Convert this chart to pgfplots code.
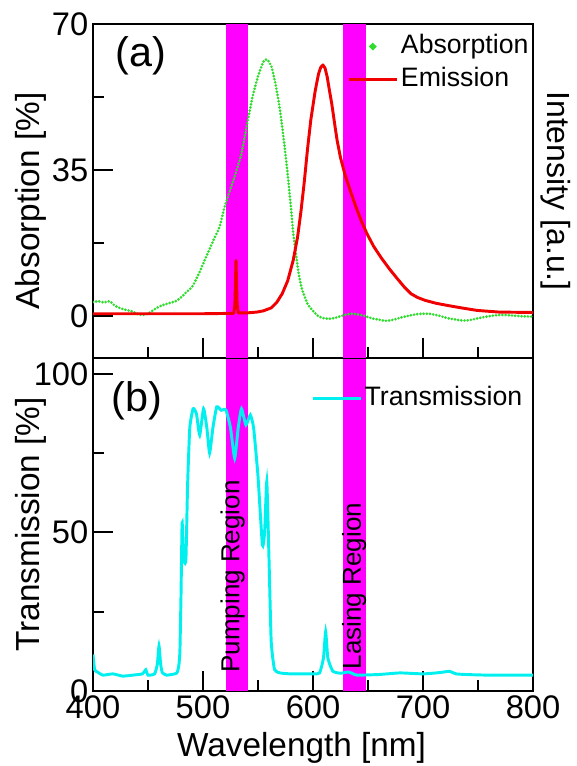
\documentclass[border=0pt]{standalone}
\usepackage{fontspec}
\setmainfont{Liberation Sans}
\usepackage{pgfplots}
\pgfplotsset{compat=1.18}

\definecolor{absgreen}{RGB}{45,220,45}
\definecolor{emred}{RGB}{240,0,0}
\definecolor{trcyan}{RGB}{0,240,240}
\definecolor{band}{RGB}{255,0,255}

\pgfplotsset{
  lineleg/.style={legend image code/.code={\draw[##1] (0pt,0pt) -- (36pt,0pt);}},
  panel/.style={
    scale only axis, width=330pt,
    xmin=400, xmax=800,
    axis line style={line width=1.4pt},
    every tick/.style={line width=1.4pt, black},
    major tick length=15pt, minor tick length=8pt,
    tick align=inside,
    xtick={400,500,...,800}, minor xtick={450,550,650,750},
    xtick pos=bottom, ytick pos=left,
    tick label style={font=\fontsize{24.5}{28}\selectfont},
    /pgf/number format/assume math mode=true,
    label style={font=\fontsize{25}{29}\selectfont},
    clip mode=individual,
    legend style={draw=none, fill=none, inner sep=0pt,
      font=\fontsize{20}{24}\selectfont,
      nodes={inner sep=2pt, text height=14.6pt, text depth=4.2pt},
      row sep=2pt},
    legend cell align=left,
  },
}

\begin{document}
\begin{tikzpicture}
\useasboundingbox (-69.75pt,-56.25pt) rectangle (362.25pt,518.25pt);

% (b) transmission
\begin{axis}[panel, at={(0pt,0pt)}, anchor=south west,
  height=249.75pt, ymin=0, ymax=105,
  ytick={0,50,100}, minor ytick={25,75},
  xlabel={Wavelength [nm]},
  ylabel={Transmission [\%]},
  xlabel style={at={(rel axis cs:0.474,-0.171)}, anchor=center},
  ylabel style={at={(rel axis cs:-0.141,0.5)}, anchor=center},
  legend style={at={(axis cs:598,97)}, anchor=north west},
]
\fill[band] (axis cs:521,0) rectangle (axis cs:541,105);
\fill[band] (axis cs:627,0) rectangle (axis cs:648,105);
\addplot[trcyan, line width=2.2pt, smooth, tension=0.3, lineleg] coordinates {
(400,11.5) (401.5,6.7) (404,6) (409,5) (418,5.4) (427,4.7) (436,5)
(445,5.4) (448,6.7) (450,5) (456,5.4) (458.5,8.5) (460,14.2) (461.5,8.5)
(463,5.8) (467,5) (476,5.6) (478,8) (479,12.5) (480,30) (481,53)
(482,45) (483,40.6) (484.5,41.7) (486,65) (488,83) (491,89) (494,87.5)
(497,80.7) (500.5,89) (503.5,83) (506,75) (509,83) (512.5,89.6)
(516.5,88.5) (519,88.8) (521,88.5) (525,83) (528.8,73.4) (532,83)
(535,89) (539,83.9) (543,87) (546,83) (550,67.7) (554,46) (556,50)
(558,66) (560,41.7) (562,15.6) (565,6.8) (570,5.7) (580,5.4) (600,5.4)
(606,5.7) (609.5,10.4) (611.5,18.75) (613.5,10.4) (618,6.25) (625,5.6)
(632,6) (636,5.5) (640,5) (660,5.2) (679,5.7) (700,5.4) (715,5.8)
(724,6.2) (730,5.4) (739,5.2) (760,5) (800,5)
};
\addlegendentry{Transmission}
\node[font=\fontsize{31}{36}\selectfont, anchor=west, inner sep=0pt]
  at (axis cs:417,91.5) {(b)};
\node[font=\fontsize{19.5}{23}\selectfont, rotate=90, anchor=west, inner sep=0pt]
  at (axis cs:527,5.7) {Pumping Region};
\node[font=\fontsize{19.5}{23}\selectfont, rotate=90, anchor=west, inner sep=0pt]
  at (axis cs:637.5,6.8) {Lasing Region};
\end{axis}

% (a) absorption / emission
\begin{axis}[panel, at={(0pt,249.75pt)}, anchor=south west,
  height=250.5pt, ymin=-10, ymax=70,
  ytick={0,35,70}, minor ytick={17.5,52.5},
  xticklabels={},
  ylabel={Absorption [\%]},
  ylabel style={at={(rel axis cs:-0.141,0.47)}, anchor=center},
  legend style={at={(axis cs:631,68.3)}, anchor=north west},
]
\fill[band] (axis cs:521,-10) rectangle (axis cs:541,70);
\fill[band] (axis cs:627,-10) rectangle (axis cs:648,70);
\addplot[absgreen, line width=2.2pt, line cap=round, dash pattern=on 0pt off 2.4pt,
  smooth, tension=0.4,
  legend image code/.code={\fill[absgreen, solid] (18pt,0pt) circle (1.4pt);}] coordinates {
(400,3.4) (405,3.6) (410,3.3) (415,3.6) (420,2.5) (425,1.9) (430,1.5)
(435,1.2) (440,0.6) (445,0.3) (450,0.6) (455,1.5) (460,2.3) (465,2.8)
(470,3.2) (475,3.6) (480,4.5) (485,5.8) (490,7) (495,9.5) (500,12.5)
(505,15.5) (510,18.5) (515,21.4) (520,26.5) (525,30.5) (530,34.5)
(535,39) (540,46) (545,52.5) (550,57.5) (555,61) (558,61.5) (562,60)
(566,55.5) (570,49.4) (574,41) (577,34) (580,26) (582,20) (585,14)
(587,10.2) (590,6.5) (595,3) (600,1.3) (605,0) (610,-0.5) (615,-0.6)
(620,-0.4) (625,0) (630,0.4) (635,0.6) (640,0.5) (645,0.2) (650,-0.2)
(655,-0.6) (660,-0.8) (665,-1.1) (670,-1) (675,-0.7) (680,-0.3) (685,0)
(690,0.3) (695,0.5) (700,0.6) (705,0.6) (710,0.4) (715,0.1) (720,-0.3)
(725,-0.6) (730,-0.8) (735,-1) (740,-1) (745,-0.8) (750,-0.5) (755,-0.2)
(760,0) (765,0.2) (770,0.3) (775,0.3) (780,0.2) (790,0) (800,-0.1)
};
\addlegendentry{Absorption}
\addplot[emred, line width=2.2pt, line join=round, lineleg] coordinates {
(400,0.6) (450,0.6) (500,0.6) (528,0.7) (529,3) (530,13.4) (531,3)
(532,0.8) (540,0.8) (549,1) (555,1.3) (562,2) (567,3.3) (572,5.4)
(577,8.5) (582,13.4) (586,19) (589,25) (592,32) (595,40) (598,47)
(602,54) (605,58) (607,59.6) (609,60.2) (611,59.4) (613,57.2) (615,54)
(617,51) (620,45.5) (622,42) (625,38) (629,34) (634,30) (639,26.2)
(644,22.8) (649,19.8) (655,16.8) (662,14) (669,11.5) (676,9.2) (683,7)
(689,5.4) (695,4.5) (702,3.8) (712,3.1) (722,2.6) (735,2) (749,1.4)
(769,1) (800,0.9)
};
\addlegendentry{Emission}
\node[font=\fontsize{31}{36}\selectfont, anchor=west, inner sep=0pt]
  at (axis cs:420,62.3) {(a)};
\node[font=\fontsize{24}{28}\selectfont, rotate=-90, anchor=center]
  at (rel axis cs:1.052,0.5) {Intensity [a.u.]};
\end{axis}
\end{tikzpicture}
\end{document}
